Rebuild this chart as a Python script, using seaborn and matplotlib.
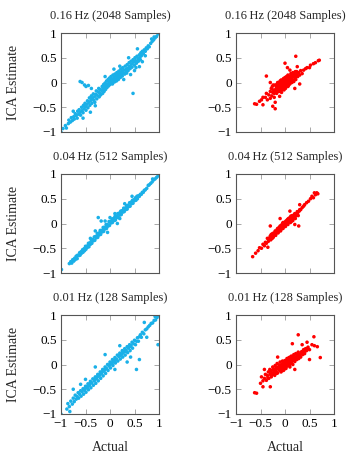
import matplotlib
matplotlib.use("Agg")
import matplotlib.pyplot as plt
import seaborn as sns
import pandas as pd

sns.set_theme(style="white")
plt.rcParams['font.family'] = ['Liberation Serif', 'DejaVu Serif']
plt.rcParams['axes.unicode_minus'] = True

titles = ["0.16\u2009Hz (2048 Samples)", "0.16\u2009Hz (2048 Samples)",
          "0.04\u2009Hz (512 Samples)", "0.04\u2009Hz (512 Samples)",
          "0.01\u2009Hz (128 Samples)", "0.01\u2009Hz (128 Samples)"]
ticks = [-1, -0.5, 0, 0.5, 1]
tick_labels = ["\u22121", "\u22120.5", "0", "0.5", "1"]
colors = ["#1ab0e8", "#ff0000"]

# (actual, ICA estimate) pairs
a_016 = [(-1.0,-1.0),(-0.96,-0.93),(-0.91,-0.87),(-0.89,-0.92),(-0.85,-0.83),(-0.84,-0.76),(-0.81,-0.8),
 (-0.79,-0.71),(-0.77,-0.77),(-0.74,-0.69),(-0.73,-0.74),(-0.71,-0.63),(-0.69,-0.67),(-0.67,-0.72),
 (-0.66,-0.58),(-0.64,-0.64),(-0.63,-0.55),(-0.61,-0.6),(-0.6,-0.66),(-0.58,-0.5),(-0.57,-0.57),
 (-0.55,-0.61),(-0.54,-0.46),(-0.53,-0.53),(-0.51,-0.42),(-0.5,-0.49),(-0.49,-0.56),(-0.47,-0.44),
 (-0.46,-0.37),(-0.45,-0.51),(-0.43,-0.4),(-0.42,-0.31),(-0.41,-0.46),(-0.39,-0.36),(-0.38,-0.27),
 (-0.37,-0.42),(-0.36,-0.32),(-0.34,-0.23),(-0.33,-0.36),(-0.32,-0.29),(-0.31,-0.4),(-0.29,-0.24),
 (-0.28,-0.17),(-0.27,-0.33),(-0.26,-0.26),(-0.24,-0.19),(-0.23,-0.12),(-0.22,-0.29),(-0.21,-0.21),
 (-0.2,-0.14),(-0.19,-0.25),(-0.17,-0.16),(-0.16,-0.08),(-0.15,-0.22),(-0.14,-0.13),(-0.13,-0.04),
 (-0.12,-0.18),(-0.11,-0.09),(-0.1,-0.01),(-0.09,-0.14),(-0.08,-0.06),(-0.07,0.03),(-0.06,-0.1),
 (-0.05,-0.03),(-0.04,0.06),(-0.03,-0.07),(-0.02,0.01),(-0.01,0.09),(0.0,-0.04),(0.01,0.04),(0.02,0.12),
 (0.03,0.0),(0.04,0.07),(0.05,-0.03),(0.06,0.15),(0.07,0.04),(0.08,0.1),(0.09,0.01),(0.1,0.17),
 (0.11,0.07),(0.12,0.13),(0.13,0.03),(0.14,0.2),(0.15,0.1),(0.16,0.16),(0.17,0.06),(0.18,0.23),
 (0.19,0.13),(0.2,0.19),(0.21,0.1),(0.22,0.27),(0.23,0.16),(0.24,0.22),(0.25,0.13),(0.26,0.3),(0.27,0.2),
 (0.28,0.25),(0.3,0.17),(0.31,0.33),(0.32,0.26),(0.33,0.21),(0.35,0.36),(0.36,0.29),(0.37,0.24),
 (0.39,0.4),(0.4,0.33),(0.41,0.28),(0.43,0.43),(0.44,0.37),(0.45,0.31),(0.47,0.46),(0.48,0.41),(0.5,0.35),
 (0.51,0.5),(0.52,0.44),(0.54,0.39),(0.55,0.53),(0.57,0.48),(0.58,0.43),(0.6,0.56),(0.61,0.51),(0.63,0.6),
 (0.64,0.54),(0.66,0.63),(0.68,0.58),(0.7,0.66),(0.72,0.63),(0.74,0.7),(0.76,0.68),(0.78,0.74),(0.8,0.72),
 (0.83,0.79),(0.86,0.83),(0.89,0.86),(0.92,0.9),(0.95,0.93),(0.98,0.98),(0.9,0.92),(0.85,0.88),
 (-0.61,0.02),(-0.57,0.0),(-0.52,-0.05),(-0.49,-0.08),(-0.44,-0.06),(-0.38,-0.12),(-0.4,-0.6),
 (-0.75,-0.58),(0.34,0.19),(0.47,-0.22),(0.6,0.32),(0.42,0.16),(0.5,0.24),(0.28,0.06),(0.66,0.42),
 (0.62,0.46),(0.2,0.33),(0.08,0.27),(-0.1,0.12),(0.56,0.68),(0.72,0.54),(-0.3,-0.47),(-0.55,-0.72),
 (0.38,0.5),(0.53,0.3)]

b_016 = [(-0.62,-0.43),(-0.58,-0.44),(-0.52,-0.38),(-0.48,-0.35),(-0.45,-0.3),(-0.4,-0.3),(-0.38,-0.22),
 (-0.36,-0.35),(-0.33,-0.25),(-0.3,-0.18),(-0.3,-0.32),(-0.28,-0.12),(-0.27,-0.27),(-0.25,-0.2),(-0.24,-0.05),
 (-0.22,-0.3),(-0.2,-0.15),(-0.2,-0.4),(-0.18,-0.08),(-0.17,-0.22),(-0.15,-0.12),(-0.15,0.0),(-0.13,-0.18),
 (-0.12,-0.05),(-0.11,-0.28),(-0.1,-0.1),(-0.1,0.03),(-0.09,-0.15),(-0.08,-0.02),(-0.07,-0.2),(-0.06,-0.07),
 (-0.05,0.05),(-0.05,-0.12),(-0.04,-0.03),(-0.03,0.08),(-0.02,-0.09),(-0.01,0.0),(0.0,-0.05),(0.0,0.1),
 (0.01,-0.12),(0.02,0.03),(0.03,0.12),(0.04,-0.04),(0.05,0.06),(0.06,0.15),(0.07,-0.01),(0.08,0.08),
 (0.09,0.02),(0.1,0.12),(0.11,0.05),(0.12,0.18),(0.13,0.07),(0.14,0.0),(0.15,0.11),(0.16,0.2),(0.17,0.05),
 (0.18,0.14),(0.2,0.1),(0.21,0.22),(0.22,0.06),(0.24,0.16),(0.26,0.12),(0.28,0.2),(0.3,0.15),(0.32,0.24),
 (0.35,0.18),(0.38,0.25),(0.42,0.28),(0.45,0.3),(0.5,0.3),(0.52,0.35),(0.58,0.38),(0.62,0.4),(0.68,0.44),
 (0.7,0.45),
 (0.22,0.53),(0.0,0.39),(-0.38,0.13),(-0.2,-0.53),(0.05,0.3),(-0.25,-0.48),(0.2,-0.12),(0.25,0.32),
 (0.1,0.25),(-0.3,0.0),(0.3,-0.03),(-0.45,-0.45),
 (-0.05,-0.02),(0.0,0.02),(0.05,0.0),(-0.02,0.05),(0.03,-0.08),(0.08,0.04),(-0.08,-0.1),(-0.12,-0.12),
 (0.12,0.1),(0.02,-0.02),(-0.03,-0.06),(0.06,0.08),(0.1,0.0),(-0.1,-0.04),(-0.15,-0.08),
 (-0.18,-0.13),(-0.22,-0.18),(-0.06,0.02),(0.04,0.1),(0.14,0.14),(-0.14,-0.03),(0.07,-0.06),
 (-0.2,-0.05),(-0.18,-0.18),(-0.16,-0.03),(-0.14,-0.15),(-0.12,0.0),(-0.1,-0.18),(-0.08,0.05),
 (-0.06,-0.14),(-0.04,0.02),(-0.02,-0.15),(0.0,0.06),(0.02,-0.07),(0.04,0.04),(0.06,-0.08),(0.08,0.12),
 (0.1,-0.03),(0.12,0.14),(0.14,0.04),(0.16,0.12),(0.18,0.02),(-0.24,-0.15),(-0.26,-0.08),(-0.22,-0.22),
 (0.2,0.16),(0.22,0.12),(0.24,0.22),(-0.13,-0.08),(-0.07,-0.04),(0.01,0.06),(0.09,0.1)]

a_004 = [(-0.99,-0.93),(-0.83,-0.81),(-0.8,-0.77),(-0.78,-0.8),(-0.76,-0.73),(-0.74,-0.76),(-0.72,-0.7),
 (-0.71,-0.73),(-0.69,-0.66),(-0.67,-0.71),(-0.66,-0.64),(-0.64,-0.65),(-0.62,-0.59),(-0.61,-0.64),
 (-0.59,-0.57),(-0.58,-0.6),(-0.56,-0.53),(-0.55,-0.58),(-0.53,-0.51),(-0.52,-0.55),(-0.5,-0.46),
 (-0.49,-0.52),(-0.47,-0.46),(-0.46,-0.48),(-0.44,-0.4),(-0.43,-0.47),(-0.41,-0.39),(-0.4,-0.42),
 (-0.38,-0.34),(-0.37,-0.4),(-0.35,-0.32),(-0.34,-0.35),(-0.32,-0.27),(-0.31,-0.34),(-0.29,-0.26),
 (-0.28,-0.29),(-0.26,-0.2),(-0.25,-0.28),(-0.23,-0.2),(-0.22,-0.23),(-0.2,-0.14),(-0.19,-0.22),
 (-0.17,-0.14),(-0.16,-0.17),(-0.14,-0.08),(-0.13,-0.16),(-0.11,-0.08),(-0.1,-0.11),(-0.08,-0.02),
 (-0.07,-0.1),(-0.05,-0.02),(-0.04,-0.05),(-0.02,0.04),(-0.01,-0.04),(0.01,0.04),(0.02,0.01),(0.04,0.09),
 (0.05,0.02),(0.07,0.1),(0.08,0.06),(0.1,0.14),(0.11,0.07),(0.13,0.15),(0.14,0.12),(0.16,0.2),(0.17,0.12),
 (0.19,0.21),(0.2,0.17),(0.22,0.25),(0.23,0.18),(0.25,0.26),(0.26,0.23),(0.28,0.31),(0.29,0.24),(0.31,0.31),
 (0.32,0.28),(0.34,0.36),(0.35,0.29),(0.37,0.37),(0.38,0.34),(0.4,0.42),(0.41,0.35),(0.43,0.43),(0.44,0.4),
 (0.46,0.47),(0.47,0.41),(0.49,0.48),(0.5,0.46),(0.52,0.52),(0.53,0.47),(0.55,0.55),(0.56,0.5),(0.58,0.56),
 (0.6,0.55),(0.62,0.59),(0.64,0.59),(0.66,0.63),(0.68,0.63),(0.7,0.67),(0.72,0.68),(0.75,0.71),(0.78,0.77),
 (0.8,0.78),(0.83,0.81),(0.86,0.84),(0.89,0.88),(0.92,0.9),(0.95,0.93),(0.98,0.96),(0.87,0.9),
 (-0.24,0.12),(-0.18,0.05),(-0.3,-0.15),(0.1,0.2),(0.2,0.1),(-0.1,0.05),(0.0,0.12),(-0.4,-0.3),(0.3,0.4),
 (-0.05,-0.18),(0.45,0.55),(0.15,0.0),
 (-0.25,-0.25),(-0.15,-0.14),(-0.05,-0.05),(0.05,0.05),(0.15,0.14),(0.25,0.24),(-0.35,-0.34),(0.35,0.33),
 (-0.45,-0.45),(0.45,0.44),(-0.12,-0.08),(0.0,0.03),(0.1,0.07),(-0.2,-0.17)]

b_004 = [(-0.66,-0.67),(-0.6,-0.6),(-0.55,-0.55),(-0.52,-0.49),(-0.48,-0.5),(-0.45,-0.42),(-0.42,-0.45),
 (-0.4,-0.38),(-0.38,-0.4),(-0.36,-0.3),(-0.34,-0.36),(-0.32,-0.3),(-0.3,-0.25),(-0.29,-0.33),(-0.27,-0.26),
 (-0.25,-0.2),(-0.24,-0.28),(-0.22,-0.21),(-0.2,-0.15),(-0.19,-0.24),(-0.17,-0.17),(-0.15,-0.1),
 (-0.14,-0.19),(-0.12,-0.12),(-0.1,-0.05),(-0.09,-0.15),(-0.07,-0.07),(-0.05,0.0),(-0.04,-0.1),
 (-0.02,-0.03),(0.0,0.03),(0.01,-0.06),(0.03,0.01),(0.05,0.08),(0.06,-0.02),(0.08,0.06),(0.1,0.12),
 (0.11,0.02),(0.13,0.1),(0.15,0.16),(0.16,0.06),(0.18,0.14),(0.2,0.2),(0.21,0.1),(0.23,0.18),(0.25,0.24),
 (0.27,0.16),(0.29,0.25),(0.32,0.28),(0.35,0.32),(0.38,0.35),(0.4,0.38),(0.44,0.42),(0.48,0.45),
 (0.52,0.5),(0.55,0.55),(0.58,0.52),(0.62,0.58),(0.65,0.62),(0.67,0.6),(0.6,0.62),
 (-0.3,-0.05),(0.28,-0.05),(0.2,-0.02),(-0.35,-0.48),(0.1,0.25),(-0.1,0.1),(0.3,0.38),
 (-0.05,-0.05),(0.0,0.0),(0.05,0.03),(-0.1,-0.1),(0.1,0.08),(-0.15,-0.14),(0.15,0.12),(-0.2,-0.2),
 (0.2,0.16),(0.02,0.05),(-0.02,-0.01),(0.07,0.1),(-0.07,-0.03),(0.12,0.15),(-0.12,-0.08),
 (-0.28,-0.22),(-0.26,-0.3),(-0.23,-0.24),(-0.21,-0.18),(-0.18,-0.2),(-0.16,-0.12),(-0.13,-0.16),
 (-0.11,-0.09),(-0.08,-0.12),(-0.06,-0.04),(-0.03,-0.07),(-0.01,0.0),(0.02,-0.02),(0.04,0.06),(0.07,0.03),
 (0.09,0.1),(0.12,0.07),(0.14,0.14),(0.17,0.11),(0.19,0.18),(0.22,0.15),(0.24,0.2),(0.26,0.22),(0.3,0.28),
 (-0.33,-0.3),(0.09,0.04),(-0.04,0.02),(0.13,0.04)]

a_001 = [(-1.0,-1.0),(-0.88,-0.9),(-0.86,-0.79),(-0.83,-0.85),(-0.8,-0.74),(-0.77,-0.8),(-0.75,-0.68),
 (-0.73,-0.75),(-0.71,-0.62),(-0.69,-0.7),(-0.67,-0.65),(-0.65,-0.57),(-0.64,-0.68),(-0.62,-0.6),
 (-0.6,-0.53),(-0.59,-0.64),(-0.57,-0.55),(-0.55,-0.49),(-0.54,-0.6),(-0.52,-0.52),(-0.5,-0.44),
 (-0.49,-0.56),(-0.47,-0.47),(-0.45,-0.39),(-0.44,-0.51),(-0.42,-0.42),(-0.4,-0.34),(-0.39,-0.47),
 (-0.37,-0.37),(-0.35,-0.29),(-0.34,-0.42),(-0.32,-0.33),(-0.3,-0.25),(-0.29,-0.38),(-0.27,-0.28),
 (-0.25,-0.2),(-0.24,-0.33),(-0.22,-0.23),(-0.2,-0.15),(-0.19,-0.28),(-0.17,-0.18),(-0.15,-0.1),
 (-0.14,-0.23),(-0.12,-0.13),(-0.1,-0.05),(-0.09,-0.18),(-0.07,-0.08),(-0.05,0.0),(-0.04,-0.12),
 (-0.02,-0.03),(0.0,0.05),(0.01,-0.07),(0.03,0.02),(0.05,0.1),(0.06,-0.02),(0.08,0.07),(0.1,0.14),
 (0.11,0.03),(0.13,0.11),(0.15,0.19),(0.16,0.07),(0.18,0.16),(0.2,0.23),(0.21,0.11),(0.23,0.2),(0.25,0.28),
 (0.26,0.15),(0.28,0.25),(0.3,0.32),(0.31,0.19),(0.33,0.29),(0.35,0.36),(0.36,0.24),(0.38,0.33),(0.4,0.4),
 (0.41,0.28),(0.43,0.38),(0.45,0.45),(0.46,0.33),(0.48,0.42),(0.5,0.49),(0.52,0.4),(0.54,0.47),(0.56,0.54),
 (0.58,0.47),(0.6,0.56),(0.62,0.6),(0.64,0.55),(0.66,0.65),(0.69,0.62),(0.72,0.7),(0.75,0.72),(0.78,0.76),
 (0.81,0.79),(0.84,0.83),(0.87,0.84),(0.9,0.89),(0.93,0.9),(0.96,0.95),(0.99,0.99),(0.92,0.97),
 (-0.75,-0.5),(-0.82,-0.95),(0.98,0.4),(0.54,-0.1),(0.6,0.1),(0.35,0.05),(0.42,0.15),(-0.1,0.2),(0.2,0.38),
 (-0.3,-0.05),(-0.5,-0.3),(0.7,0.85),(0.75,0.55),(-0.6,-0.4),(0.1,-0.1),
 (-0.2,-0.2),(-0.1,-0.1),(0.0,0.0),(0.1,0.08),(0.2,0.18),(0.3,0.26),(-0.3,-0.3),(-0.4,-0.38),(-0.5,-0.48),
 (0.4,0.36),(-0.15,-0.14),(0.05,0.04),(0.25,0.22),(-0.25,-0.24),(-0.45,-0.44)]

b_001 = [(-0.62,-0.57),(-0.58,-0.58),(-0.5,-0.38),(-0.48,-0.25),(-0.45,-0.33),(-0.42,-0.28),(-0.4,-0.2),
 (-0.38,-0.32),(-0.36,-0.22),(-0.34,-0.15),(-0.33,-0.28),(-0.31,-0.1),(-0.3,-0.2),(-0.28,-0.25),
 (-0.27,-0.12),(-0.25,-0.05),(-0.24,-0.18),(-0.22,-0.1),(-0.21,-0.22),(-0.2,-0.02),(-0.18,-0.14),
 (-0.17,-0.06),(-0.16,0.02),(-0.15,-0.17),(-0.14,-0.09),(-0.12,-0.01),(-0.11,-0.12),(-0.1,0.05),
 (-0.09,-0.06),(-0.08,-0.15),(-0.07,0.0),(-0.06,-0.08),(-0.05,0.07),(-0.04,-0.03),(-0.03,-0.12),
 (-0.02,0.03),(-0.01,-0.05),(0.0,0.08),(0.01,0.0),(0.02,-0.08),(0.03,0.05),(0.04,0.12),(0.05,-0.02),
 (0.06,0.07),(0.07,0.0),(0.08,0.14),(0.09,0.04),(0.1,-0.05),(0.11,0.1),(0.12,0.02),(0.13,0.17),(0.14,0.07),
 (0.15,0.12),(0.16,0.0),(0.17,0.1),(0.18,0.2),(0.2,0.06),(0.21,0.14),(0.22,0.22),(0.24,0.1),(0.25,0.17),
 (0.27,0.25),(0.28,0.12),(0.3,0.2),(0.32,0.15),(0.34,0.26),(0.36,0.2),(0.38,0.3),(0.4,0.22),(0.42,0.32),
 (0.44,0.28),(0.47,0.35),(0.5,0.3),(0.55,0.4),(0.6,0.38),
 (0.27,0.6),(0.59,0.56),(0.66,0.36),(0.72,0.14),(0.45,0.45),(0.15,0.42),(-0.3,-0.45),(-0.42,-0.1),
 (0.5,0.1),(0.35,0.4),(-0.15,0.15),(0.2,-0.1),(-0.45,-0.45),
 (0.0,0.0),(0.05,0.03),(-0.05,-0.02),(0.1,0.05),(-0.1,-0.05),(0.15,0.08),(-0.15,-0.08),(0.2,0.12),
 (-0.2,-0.12),(0.08,0.08),(-0.02,-0.01),(0.12,0.12),(-0.08,-0.04),
 (-0.3,-0.12),(-0.28,-0.18),(-0.26,-0.2),(-0.24,-0.1),(-0.22,-0.16),(-0.19,-0.08),(-0.17,-0.18),
 (-0.13,-0.05),(-0.11,-0.02),(-0.09,-0.1),(-0.06,-0.12),(-0.04,0.03),(-0.01,-0.09),(0.01,0.05),
 (0.03,-0.04),(0.05,0.09),(0.07,0.04),(0.09,-0.02),(0.11,0.15),(0.13,0.05),(0.16,0.15),(0.19,0.08),
 (0.23,0.16),(0.26,0.2),(0.29,0.16),(0.33,0.22),(0.37,0.25),(0.41,0.27),(0.45,0.32),(-0.35,-0.27)]

panels = [a_016, b_016, a_004, b_004, a_001, b_001]

fig = plt.figure(figsize=(3.5, 4.58), dpi=100)
W, H = 350, 458
lefts = [61, 236]
tops = [33, 174, 315]
aw, ah = 98, 99
fs_title = 9
fs_tick = 9.5
fs_label = 10

for i, pts in enumerate(panels):
    r, c = divmod(i, 2)
    ax = fig.add_axes([lefts[c] / W, 1 - (tops[r] + ah) / H, aw / W, ah / H])
    df = pd.DataFrame(pts, columns=["Actual", "ICA Estimate"])
    sns.scatterplot(data=df, x="Actual", y="ICA Estimate", ax=ax, color=colors[c],
                    s=6.5, marker="o", linewidth=0, edgecolor="none")
    ax.set_xlim(-1, 1)
    ax.set_ylim(-1, 1)
    ax.set_xticks(ticks)
    ax.set_yticks(ticks)
    ax.set_yticklabels(tick_labels, fontsize=fs_tick)
    if r == 2:
        ax.set_xticklabels(tick_labels, fontsize=fs_tick)
        ax.set_xlabel("Actual", fontsize=fs_label, labelpad=8)
    else:
        ax.set_xticklabels([])
        ax.set_xlabel("")
    if c == 0:
        ax.set_ylabel("ICA Estimate", fontsize=fs_label, labelpad=9)
    else:
        ax.set_ylabel("")
    ax.set_title(titles[i], fontsize=fs_title, pad=10)
    ax.tick_params(direction="in", length=3.5, width=0.6, color="#999999",
                   top=True, right=True, bottom=True, left=True, pad=3,
                   labelcolor="black")
    for sp in ax.spines.values():
        sp.set_visible(True)
        sp.set_color("#555555")
        sp.set_linewidth(0.8)

fig.savefig("out.png", dpi=100)
